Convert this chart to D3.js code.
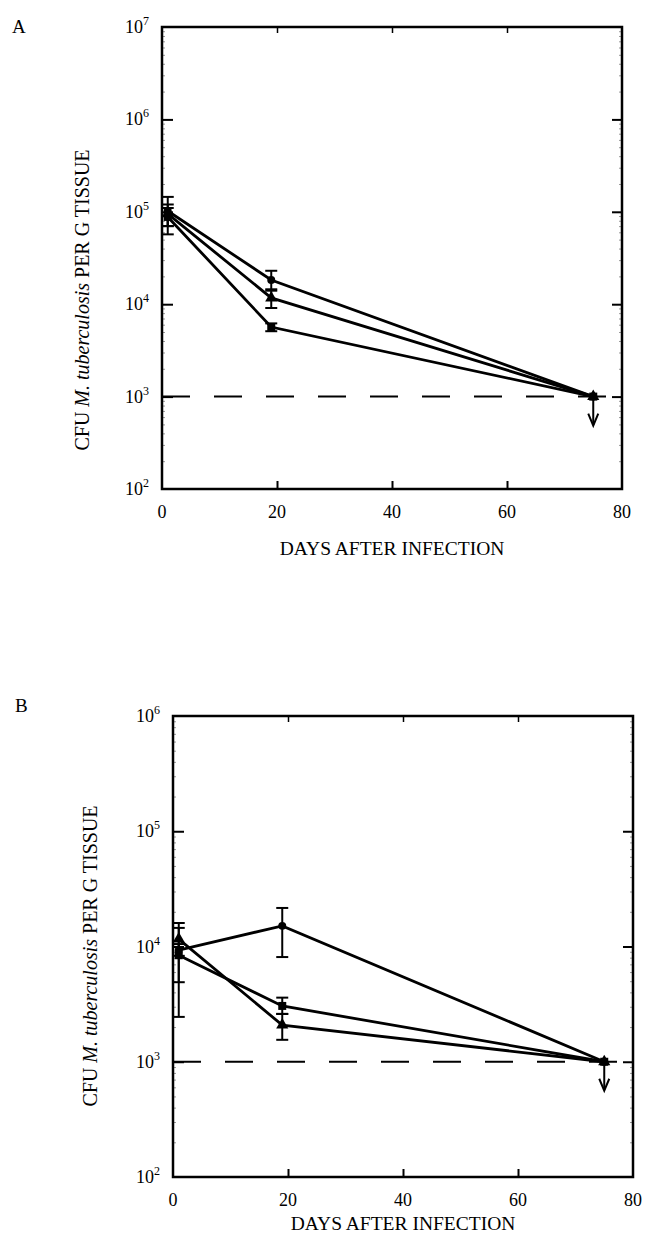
<!DOCTYPE html>
<html>
<head>
<meta charset="utf-8">
<script src="https://cdn.jsdelivr.net/npm/d3@7"></script>
<style>
  body { margin: 0; background: #fff; }
  svg { display: block; }
  text { font-family: "Liberation Serif", "DejaVu Serif", serif; fill: #000; }
</style>
</head>
<body>
<svg width="645" height="1238"></svg>
<script>
const svg = d3.select('svg');

// days sampled
const days = [1, 19, 75];
const xTicks = [0, 20, 40, 60, 80];
const detectionLimit = 1e3;

// panel A
const aDecades = [1e2, 1e3, 1e4, 1e5, 1e6, 1e7];
const aCircle = [1.02e5, 1.83e4, 1e3];
const aCircleHi = [1.45e5, 2.3e4, 1e3];
const aCircleLo = [7.0e4, 1.45e4, 1e3];
const aTriangle = [9.5e4, 1.17e4, 1e3];
const aTriangleHi = [1.2e5, 1.4e4, 1e3];
const aTriangleLo = [5.7e4, 9.1e3, 1e3];
const aSquare = [8.8e4, 5.66e3, 1e3];
const aSquareHi = [1.1e5, 6.2e3, 1e3];
const aSquareLo = [7.0e4, 5.1e3, 1e3];

// panel B
const bDecades = [1e2, 1e3, 1e4, 1e5, 1e6];
const bCircle = [9.3e3, 1.51e4, 1e3];
const bCircleHi = [1.05e4, 2.16e4, 1e3];
const bCircleLo = [8.3e3, 8.1e3, 1e3];
const bTriangle = [1.16e4, 2.08e3, 1e3];
const bTriangleHi = [1.6e4, 2.6e3, 1e3];
const bTriangleLo = [4.9e3, 1.55e3, 1e3];
const bSquare = [8.4e3, 3.05e3, 1e3];
const bSquareHi = [1.45e4, 3.6e3, 1e3];
const bSquareLo = [2.45e3, 2.6e3, 1e3];

const toSeries = (shape, vals, hi, lo) =>
  days.map((d, i) => ({ day: d, v: vals[i], hi: hi[i], lo: lo[i], shape }));

const drawPanel = (p) => {
  const g = svg.append('g');
  const x = d3.scaleLinear().domain([0, 80]).range([p.left, p.right]);
  const y = d3.scaleLog().domain(d3.extent(p.decades)).range([p.bottom, p.top]);

  // minor ticks
  const minors = [];
  p.decades.slice(0, -1).forEach(d => {
    for (let k = 2; k <= 9; k++) minors.push(d * k);
  });
  g.append('g').attr('transform', `translate(${p.left},0)`)
    .call(d3.axisLeft(y).tickValues(minors).tickSize(-3).tickFormat(''))
    .call(a => a.select('.domain').remove())
    .selectAll('line').attr('stroke', '#999').attr('stroke-width', 1);
  g.append('g').attr('transform', `translate(${p.right},0)`)
    .call(d3.axisRight(y).tickValues(minors).tickSize(-3).tickFormat(''))
    .call(a => a.select('.domain').remove())
    .selectAll('line').attr('stroke', '#999').attr('stroke-width', 1);

  // major ticks
  const major = p.decades.slice(1, -1);
  g.append('g').attr('transform', `translate(${p.left},0)`)
    .call(d3.axisLeft(y).tickValues(major).tickSize(-11).tickFormat(''))
    .call(a => a.select('.domain').remove())
    .selectAll('line').attr('stroke', '#000').attr('stroke-width', 2);
  g.append('g').attr('transform', `translate(${p.right},0)`)
    .call(d3.axisRight(y).tickValues(major).tickSize(-10).tickFormat(''))
    .call(a => a.select('.domain').remove())
    .selectAll('line').attr('stroke', '#000').attr('stroke-width', 2);
  g.append('g').attr('transform', `translate(0,${p.bottom})`)
    .call(d3.axisBottom(x).tickValues([20, 40, 60]).tickSize(-8).tickFormat(''))
    .call(a => a.select('.domain').remove())
    .selectAll('line').attr('stroke', '#000').attr('stroke-width', 2);
  g.append('g').attr('transform', `translate(0,${p.top})`)
    .call(d3.axisTop(x).tickValues([20, 40, 60]).tickSize(-6).tickFormat(''))
    .call(a => a.select('.domain').remove())
    .selectAll('line').attr('stroke', '#000').attr('stroke-width', 1.5);

  // frame
  g.append('rect')
    .attr('x', p.left).attr('y', p.top)
    .attr('width', p.right - p.left).attr('height', p.bottom - p.top)
    .attr('fill', 'none').attr('stroke', '#000').attr('stroke-width', 2.5);

  // y tick labels with superscripts
  p.decades.forEach(d => {
    const t = g.append('text')
      .attr('x', p.left - 13).attr('y', y(d) + 6)
      .attr('text-anchor', 'end').attr('font-size', 18);
    t.append('tspan').text('10');
    t.append('tspan').attr('dy', -8).attr('font-size', 12).text(Math.round(Math.log10(d)));
  });

  // x tick labels
  g.selectAll('.xl').data(xTicks).enter().append('text')
    .attr('x', d => x(d)).attr('y', p.bottom + 29)
    .attr('text-anchor', 'middle').attr('font-size', 18)
    .text(d => d);

  // titles
  g.append('text')
    .attr('x', (p.left + p.right) / 2).attr('y', p.bottom + p.xTitleGap)
    .attr('text-anchor', 'middle').attr('font-size', 19.5)
    .text('DAYS AFTER INFECTION');
  const yt = g.append('text')
    .attr('transform', `translate(${p.left - p.yTitleGap},${p.yTitleY}) rotate(-90)`)
    .attr('text-anchor', 'middle').attr('font-size', 20);
  yt.append('tspan').text('CFU ');
  yt.append('tspan').attr('font-style', 'italic').text('M. tuberculosis');
  yt.append('tspan').text(' PER G TISSUE');

  g.append('text')
    .attr('x', p.labelX).attr('y', p.labelY)
    .attr('font-size', 19).text(p.label);

  // detection limit
  g.append('line')
    .attr('x1', x(0)).attr('x2', p.right)
    .attr('y1', y(detectionLimit)).attr('y2', y(detectionLimit))
    .attr('stroke', '#000').attr('stroke-width', 2)
    .attr('stroke-dasharray', '28,24');

  const line = d3.line().x(d => x(d.day)).y(d => y(d.v));

  p.series.forEach(s => {
    g.append('path').datum(s)
      .attr('d', line).attr('fill', 'none')
      .attr('stroke', '#000').attr('stroke-width', 2.8);

    const eb = g.selectAll(null).data(s.filter(d => d.hi !== d.lo)).enter().append('g');
    eb.append('line')
      .attr('x1', d => x(d.day)).attr('x2', d => x(d.day))
      .attr('y1', d => y(d.hi)).attr('y2', d => y(d.lo))
      .attr('stroke', '#000').attr('stroke-width', 2);
    ['hi', 'lo'].forEach(k => {
      eb.append('line')
        .attr('x1', d => x(d.day) - 6).attr('x2', d => x(d.day) + 6)
        .attr('y1', d => y(d[k])).attr('y2', d => y(d[k]))
        .attr('stroke', '#000').attr('stroke-width', 2);
    });

    const sym = d3.symbol()
      .type(d => d.shape === 'circle' ? d3.symbolCircle
        : d.shape === 'triangle' ? d3.symbolTriangle : d3.symbolSquare)
      .size(d => d.shape === 'circle' ? 50 : 64);
    g.selectAll(null).data(s).enter().append('path')
      .attr('d', sym)
      .attr('transform', d => `translate(${x(d.day)},${y(d.v)})`)
      .attr('fill', '#000');
  });

  // below-limit arrow at the last day
  const ax = x(days[2]);
  const ay = y(detectionLimit);
  g.append('line')
    .attr('x1', ax).attr('x2', ax).attr('y1', ay).attr('y2', ay + 28)
    .attr('stroke', '#000').attr('stroke-width', 2);
  g.append('path')
    .attr('d', `M${ax - 5},${ay + 17}L${ax},${ay + 29}L${ax + 5},${ay + 17}`)
    .attr('fill', 'none').attr('stroke', '#000').attr('stroke-width', 2);
};

drawPanel({
  left: 162, right: 622, top: 27, bottom: 489,
  decades: aDecades, label: 'A', labelX: 12, labelY: 33,
  xTitleGap: 66, yTitleGap: 73, yTitleY: 300,
  series: [
    toSeries('circle', aCircle, aCircleHi, aCircleLo),
    toSeries('triangle', aTriangle, aTriangleHi, aTriangleLo),
    toSeries('square', aSquare, aSquareHi, aSquareLo)
  ]
});

drawPanel({
  left: 173, right: 633, top: 716, bottom: 1177,
  decades: bDecades, label: 'B', labelX: 15, labelY: 712,
  xTitleGap: 53, yTitleGap: 76, yTitleY: 956,
  series: [
    toSeries('circle', bCircle, bCircleHi, bCircleLo),
    toSeries('triangle', bTriangle, bTriangleHi, bTriangleLo),
    toSeries('square', bSquare, bSquareHi, bSquareLo)
  ]
});
</script>
</body>
</html>
